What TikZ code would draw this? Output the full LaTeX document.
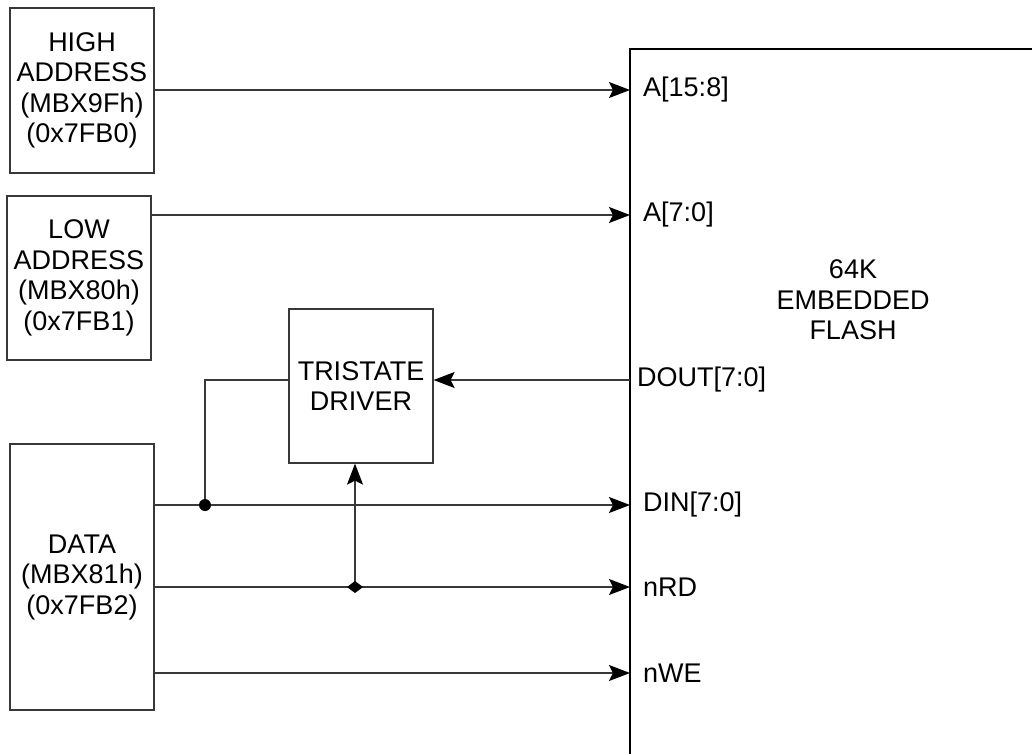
\documentclass[tikz,border=0pt]{standalone}
\usepackage{fontspec}
\setmainfont{Liberation Sans}
\usepackage{tikz}
\usetikzlibrary{arrows.meta, shapes.geometric}
\definecolor{wire}{HTML}{383838}

\begin{document}
\begin{tikzpicture}[x=1pt, y=-1pt,
    font=\fontsize{27}{30.5}\selectfont,
    regbox/.style={draw=wire, line width=1.2pt, align=center, inner sep=0pt},
    pin/.style={anchor=west, inner sep=0pt},
    bus/.style={wire, line width=1.3pt, -{Stealth[length=21pt, width=16pt, inset=4pt, black]}}]
  \useasboundingbox (0,0) rectangle (1032,753);
  % registers
  \node[regbox, minimum width=144pt, minimum height=165pt] (high) at (82,90.5)
    {HIGH\\ADDRESS\\(MBX9Fh)\\(0x7FB0)};
  \node[regbox, minimum width=144pt, minimum height=164pt] (low) at (79,278)
    {LOW\\ADDRESS\\(MBX80h)\\(0x7FB1)};
  \node[regbox, minimum width=144pt, minimum height=266pt] (data) at (82,577)
    {DATA\\(MBX81h)\\(0x7FB2)};
  \node[regbox, minimum width=144pt, minimum height=154pt] (tri) at (361,386)
    {TRISTATE\\DRIVER};
  % flash block, runs off the page
  \draw[black, line width=2pt] (1034,49) -- (630,49) -- (630,755);
  \node[align=center] (flash) at (853,300) {64K\\EMBEDDED\\FLASH};
  \coordinate (pa15) at (630,90);
  \coordinate (pa7) at (630,215);
  \coordinate (pdout) at (630,380);
  \coordinate (pdin) at (630,505);
  \coordinate (prd) at (630,587);
  \coordinate (pwe) at (630,673);
  \node[pin] (la15) at (643,90) {A[15:8]};
  \node[pin] (la7) at (643,215) {A[7:0]};
  \node[pin] (ldout) at (637,380) {DOUT[7:0]};
  \node[pin] (ldin) at (643,505) {DIN[7:0]};
  \node[pin] (lrd) at (643,587) {nRD};
  \node[pin] (lwe) at (643,673) {nWE};
  % junctions
  \coordinate (jdin) at (205,505);
  \coordinate (jrd) at (355,587);
  % buses
  \draw[bus] (high.east |- pa15) -- (pa15);
  \draw[bus] (low.east |- pa7) -- (pa7);
  \draw[bus] (pdout) -- (tri.east |- pdout);
  \draw[bus] (data.east |- pdin) -- (pdin);
  \draw[bus] (data.east |- prd) -- (prd);
  \draw[bus] (data.east |- pwe) -- (pwe);
  \draw[wire, line width=1.3pt] (tri.west |- pdout) -| (jdin);
  \draw[bus] (jrd) -- (jrd |- tri.south);
  \fill[black] (jdin) circle (6pt);
  \fill[black] (jrd) ++(-8,0) -- ++(8,-6) -- ++(8,6) -- ++(-8,6) -- cycle;
\end{tikzpicture}
\end{document}
